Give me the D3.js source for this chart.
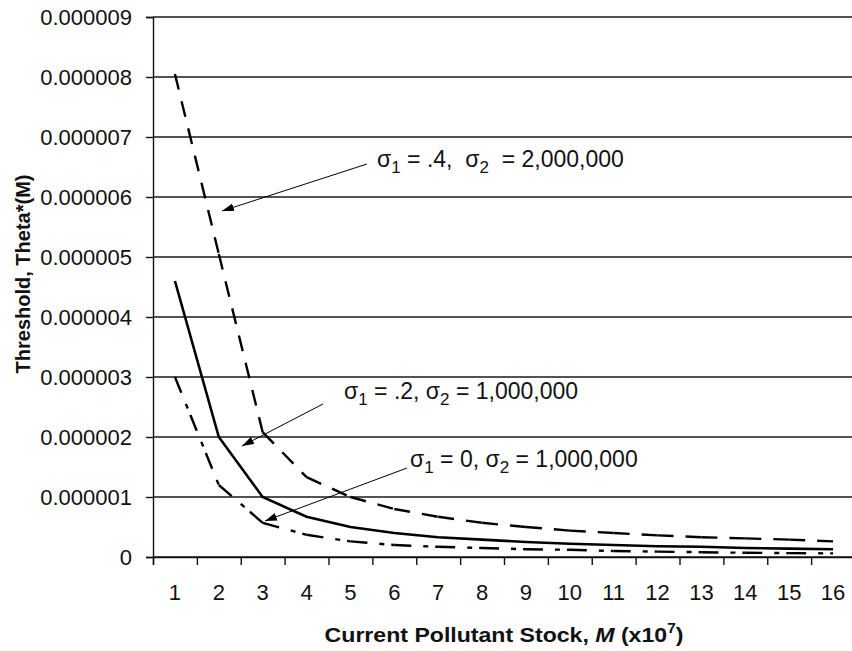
<!DOCTYPE html>
<html>
<head>
<meta charset="utf-8">
<script src="https://cdn.jsdelivr.net/npm/d3@7"></script>
<style>
  body { margin: 0; background: #fff; }
  text { font-family: "Liberation Sans", Arial, sans-serif; fill: #111; }
</style>
</head>
<body>
<div id="chart"></div>
<script>
// data
var stock = [1, 2, 3, 4, 5, 6, 7, 8, 9, 10, 11, 12, 13, 14, 15, 16];
var thetaS04 = [0.00000805, 0.00000505, 0.00000208, 0.00000133, 0.0000010, 0.0000008, 0.00000067, 0.00000057,
                0.0000005, 0.00000044, 0.0000004, 0.00000036, 0.00000033, 0.00000031, 0.00000029, 0.00000026];
var thetaS02 = [0.0000046, 0.000002, 0.000001, 0.00000067, 0.0000005, 0.0000004, 0.00000033, 0.00000029,
                0.00000025, 0.00000022, 0.0000002, 0.00000018, 0.00000017, 0.00000015, 0.00000014, 0.00000013];
var thetaS00 = [0.000003, 0.0000012, 0.00000057, 0.00000037, 0.00000026, 0.0000002, 0.00000017, 0.00000015,
                0.00000013, 0.00000012, 0.0000001, 0.00000009, 0.00000008, 0.00000007, 0.000000065, 0.00000006];
var yTicks = [0, 0.000001, 0.000002, 0.000003, 0.000004, 0.000005, 0.000006, 0.000007, 0.000008, 0.000009];

function chart(){
    var margin = {top: 17, left: 153};
    var width = 702, height = 540;

    var svg = d3.select("#chart")
        .append("svg")
        .attr("width", 852)
        .attr("height", 651);

    var defs = svg.append("defs");
    defs.append("marker")
        .attr("id", "arrow")
        .attr("viewBox", "0 0 12 8")
        .attr("refX", 12).attr("refY", 4)
        .attr("markerWidth", 12).attr("markerHeight", 8)
        .attr("markerUnits", "userSpaceOnUse")
        .attr("orient", "auto")
        .append("path")
        .attr("d", "M0,0 L12,4 L0,8 Z")
        .style("fill", "#000");

    var g = svg.append("g")
        .attr("transform", "translate(" + margin.left + "," + margin.top + ")");

    var x = d3.scaleBand().domain(stock).range([0, width]);
    var xb = d3.scaleLinear().domain([0, stock.length]).range([0, width]);
    var y = d3.scaleLinear().domain([0, 0.000009]).range([height, 0]);

    // grid lines
    g.selectAll(".grid")
        .data(yTicks)
        .enter()
        .append("line")
        .attr("x1", 0).attr("x2", width)
        .attr("y1", d => y(d)).attr("y2", d => y(d))
        .attr("stroke", "#1a1a1a")
        .attr("stroke-width", 1.4);

    // y axis
    var yAxis = g.append("g")
        .call(d3.axisLeft(y).tickValues(yTicks).tickSize(7).tickPadding(14)
            .tickFormat(d => d === 0 ? "0" : d3.format(".6f")(d)));
    yAxis.selectAll("text").style("font-size", "22px").attr("dy", "0.35em");
    yAxis.selectAll("line, path").attr("stroke", "#111").attr("stroke-width", 1.4);

    // x axis: ticks between categories, labels centred
    var xTickAxis = g.append("g")
        .attr("transform", "translate(0," + height + ")")
        .call(d3.axisBottom(xb).tickValues(d3.range(0, stock.length + 1)).tickSize(8).tickFormat(""));
    xTickAxis.selectAll("line, path").attr("stroke", "#111").attr("stroke-width", 1.4);

    var xLabelAxis = g.append("g")
        .attr("transform", "translate(0," + height + ")")
        .call(d3.axisBottom(x).tickSize(0).tickPadding(27));
    xLabelAxis.select(".domain").remove();
    xLabelAxis.selectAll("text").style("font-size", "22px");

    // series, drawn segment by segment so the dash pattern restarts at each point
    var series = [
        {values: thetaS04, dash: "16,12", width: 2.4},
        {values: thetaS02, dash: null, width: 2.6},
        {values: thetaS00, dash: "17,12,5,7", width: 2.4}
    ];
    var line = d3.line();
    series.forEach(function(s){
        var pts = s.values.map((v, i) => [x(stock[i]) + x.bandwidth() / 2, y(v)]);
        if (s.dash) {
            g.selectAll(null)
                .data(d3.pairs(pts))
                .enter()
                .append("path")
                .attr("d", d => line(d))
                .attr("fill", "none")
                .attr("stroke", "#000")
                .attr("stroke-width", s.width)
                .attr("stroke-dasharray", s.dash);
        } else {
            g.append("path")
                .attr("d", line(pts))
                .attr("fill", "none")
                .attr("stroke", "#000")
                .attr("stroke-width", s.width)
                .attr("stroke-linejoin", "miter");
        }
    });

    // annotations
    var notes = [
        {x: 377, y: 167, parts: [["σ", 0], ["1", 1], [" = .4,  ", 0], ["σ", 0], ["2", 1], ["  = 2,000,000", 0]],
         from: [367, 164], to: [222, 211]},
        {x: 344, y: 399, parts: [["σ", 0], ["1", 1], [" = .2, ", 0], ["σ", 0], ["2", 1], [" = 1,000,000", 0]],
         from: [323, 404], to: [242, 446]},
        {x: 410, y: 467, parts: [["σ", 0], ["1", 1], [" = 0, ", 0], ["σ", 0], ["2", 1], [" = 1,000,000", 0]],
         from: [407, 468], to: [265, 521]}
    ];
    notes.forEach(function(n){
        svg.append("line")
            .attr("x1", n.from[0]).attr("y1", n.from[1])
            .attr("x2", n.to[0]).attr("y2", n.to[1])
            .attr("stroke", "#000")
            .attr("stroke-width", 1)
            .attr("marker-end", "url(#arrow)");
        var t = svg.append("text")
            .attr("x", n.x).attr("y", n.y)
            .style("font-size", "23px")
            .style("white-space", "pre")
            .attr("xml:space", "preserve");
        var prevSub = 0;
        n.parts.forEach(function(p){
            var shift = p[1] ? 6 : (prevSub ? -6 : 0);
            t.append("tspan")
                .attr("dy", shift)
                .style("font-size", p[1] ? "17px" : "23px")
                .text(p[0]);
            prevSub = p[1];
        });
    });

    // axis titles
    svg.append("text")
        .attr("transform", "translate(30,274) rotate(-90)")
        .attr("text-anchor", "middle")
        .style("font-size", "20px")
        .style("font-weight", "bold")
        .text("Threshold, Theta*(M)");

    var xt = svg.append("text")
        .attr("transform", "translate(" + (margin.left + width / 2) + ",642) scale(1.1,1)")
        .attr("text-anchor", "middle")
        .style("font-size", "21px")
        .style("font-weight", "bold")
        .style("white-space", "pre")
        .attr("xml:space", "preserve");
    xt.append("tspan").text("Current Pollutant Stock, ");
    xt.append("tspan").style("font-style", "italic").text("M");
    xt.append("tspan").text(" (x10");
    xt.append("tspan").attr("dy", -9).style("font-size", "14px").text("7");
    xt.append("tspan").attr("dy", 9).text(")");
}

chart();
</script>
</body>
</html>
